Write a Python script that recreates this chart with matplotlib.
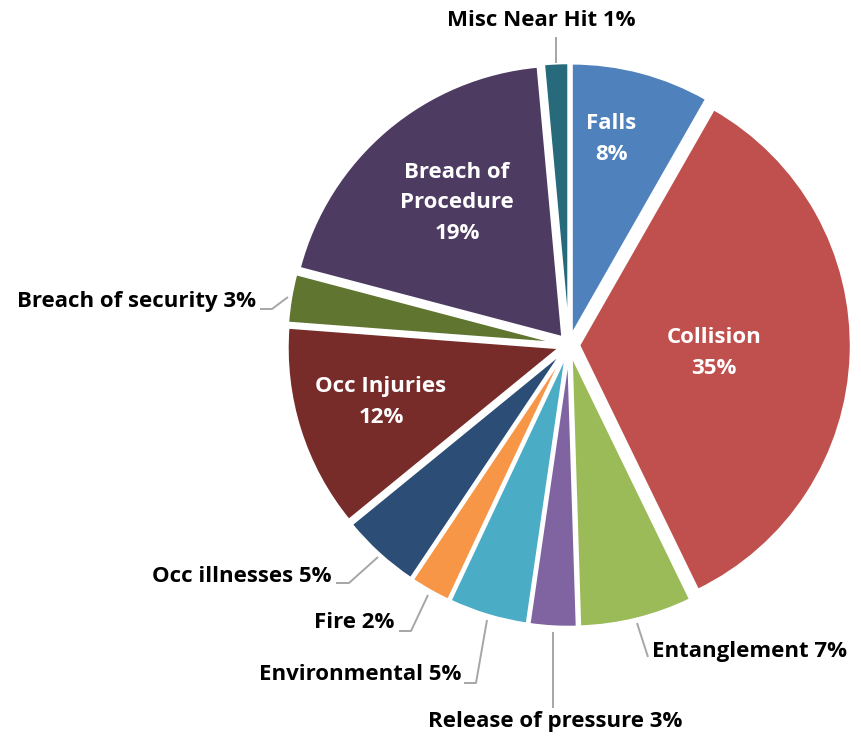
import matplotlib

matplotlib.use("Agg")
import matplotlib.pyplot as plt

# --- data -------------------------------------------------------------------
categories = [
    "Falls", "Collision", "Entanglement", "Release of pressure", "Environmental",
    "Fire", "Occ illnesses", "Occ Injuries", "Breach of security",
    "Breach of Procedure", "Misc Near Hit",
]
# shares (percent)
shares = [8.25, 34.55, 6.7, 2.8, 4.7, 2.4, 4.7, 12.1, 2.9, 19.45, 1.45]
colors = [
    "#4F81BD", "#C0504D", "#9BBB59", "#8064A2", "#4BACC6", "#F79646",
    "#2C4D75", "#772C2A", "#5F7530", "#4D3B62", "#276A7C",
]

# labels drawn inside the slice (white) vs outside with a leader line
inside_text = {
    "Falls": "Falls",
    "Collision": "Collision",
    "Occ Injuries": "Occ Injuries",
    "Breach of Procedure": "Breach of\nProcedure",
}

# --- layout (pixels, y from bottom) -----------------------------------------
W, H = 861, 739
CX, CY = 569, H - 345
RADIUS = 272
EXPLODE = 10  # absolute offset, data units = pixels

inside_pos = {
    "Falls": (611, H - 139),
    "Collision": (714, H - 353),
    "Occ Injuries": (381, H - 402),
    "Breach of Procedure": (457, H - 203),
}
# text anchor, alignment, leader line points
outside = {
    "Misc Near Hit": ((541, H - 20), "center", [(556, H - 63), (556, H - 37)]),
    "Breach of security": ((256, H - 301), "right",
                           [(288, H - 297), (272, H - 309), (260, H - 309)]),
    "Occ illnesses": ((332, H - 577), "right",
                      [(378, H - 557), (349, H - 583), (336, H - 583)]),
    "Fire": ((394, H - 623), "right",
             [(428, H - 595), (411, H - 631), (399, H - 631)]),
    "Environmental": ((461, H - 674), "right",
                      [(487, H - 620), (476, H - 683), (464, H - 683)]),
    "Release of pressure": ((555, H - 722), "center",
                            [(553, H - 632), (553, H - 708)]),
    "Entanglement": ((652, H - 652), "left", [(637, H - 623), (648, H - 657)]),
}

plt.rcParams["font.family"] = ["Open Sans", "DejaVu Sans"]
FONT_SIZE = 16

fig = plt.figure(figsize=(W / 100, H / 100), dpi=100)
ax = fig.add_axes([0, 0, 1, 1])

ax.pie(
    shares,
    colors=colors,
    startangle=90,
    counterclock=False,
    center=(CX, CY),
    radius=RADIUS,
    explode=[EXPLODE] * len(shares),
    wedgeprops={"edgecolor": "white", "linewidth": 1.8},
    frame=True,
)
ax.set_xlim(0, W)
ax.set_ylim(0, H)
ax.set_aspect("equal")
ax.axis("off")

for name, share in zip(categories, shares):
    pct = f"{share:.0f}%"
    if name in inside_text:
        x, y = inside_pos[name]
        ax.text(x, y, f"{inside_text[name]}\n{pct}", ha="center", va="center",
                color="white", fontsize=FONT_SIZE, fontweight="bold",
                linespacing=1.6)
    else:
        (tx, ty), align, pts = outside[name]
        xs, ys = zip(*pts)
        ax.plot(xs, ys, color="#A6A6A6", lw=1.4, solid_capstyle="butt")
        ax.text(tx, ty, f"{name} {pct}", ha=align, va="center",
                color="black", fontsize=FONT_SIZE, fontweight="bold")

fig.savefig("out.png", dpi=100)
